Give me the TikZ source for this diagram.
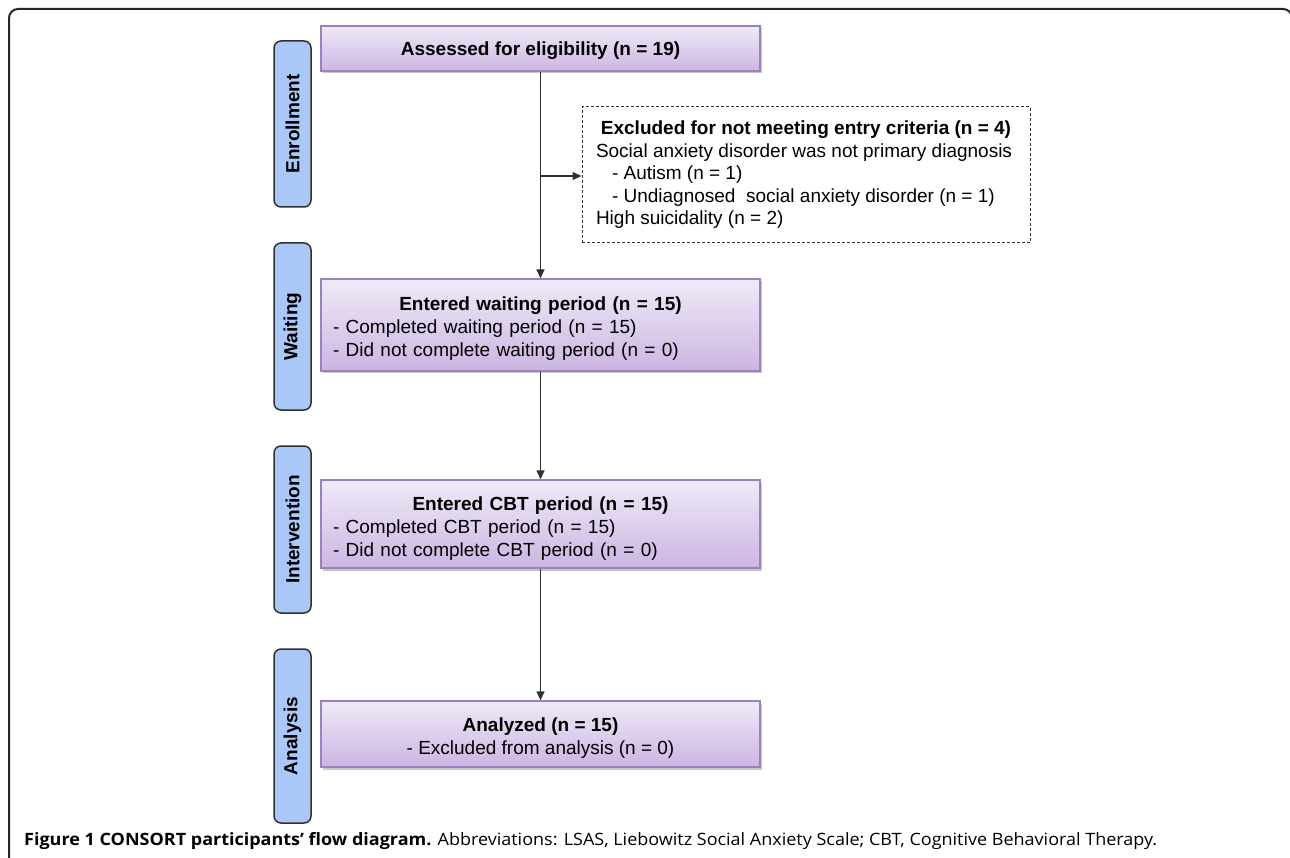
\documentclass[tikz,border=0pt]{standalone}
\usepackage{fontspec}
\usepackage{graphicx}
\setmainfont{Liberation Sans}
\newfontfamily\capfont{Open Sans}
\usetikzlibrary{arrows.meta,shadows}
\definecolor{sideblue}{HTML}{A9C8F8}
\definecolor{purptop}{HTML}{EFEAF7}
\definecolor{purpbot}{HTML}{CBB5E2}
\definecolor{purpline}{HTML}{9B82BE}
\definecolor{lineg}{HTML}{303030}
\newcommand{\dropstrut}[1]{\rule{0pt}{#1}}
\begin{document}
\begin{tikzpicture}[x=1pt,y=-1pt,
  mainbox/.style={draw=purpline, line width=1.3pt, top color=purptop, bottom color=purpbot,
    minimum width=439pt, inner xsep=12pt, inner ysep=0pt,
    font=\fontsize{19}{23}\selectfont,
    drop shadow={shadow xshift=2pt, shadow yshift=-2.5pt, fill=black, opacity=0.22}},
  sidebox/.style={draw=lineg, line width=1.5pt, fill=sideblue, rounded corners=7pt,
    minimum height=37pt, inner sep=0pt, rotate=90,
    font=\bfseries\fontsize{19}{23}\selectfont},
  exclbox/.style={draw=lineg, line width=1pt, dash pattern=on 3pt off 2pt,
    minimum width=448pt, minimum height=136pt, inner xsep=14pt,
    inner ysep=0pt, align=left, font=\fontsize{19}{22.5}\selectfont},
  arr/.style={draw=lineg, line width=1.3pt, -{Triangle[length=9pt,width=8pt]}},
  frame/.style={draw=black!85, line width=2pt, rounded corners=9pt}
]
\useasboundingbox (0,0) rectangle (1290,858);
\clip (0,0) rectangle (1290,858);
\fill[white] (0,0) rectangle (1290,858);
\draw[frame] (9,9) rectangle (1292,880);

% side boxes
\node[sidebox, minimum width=166pt] (s1) at (292.5,124) {Enrollment};
\node[sidebox, minimum width=167pt] (s2) at (292.5,326.5) {Waiting};
\node[sidebox, minimum width=167pt] (s3) at (292.5,529.5) {Intervention};
\node[sidebox, minimum width=174pt] (s4) at (292.5,736) {Analysis};

% main boxes
\node[mainbox, minimum height=45pt] (b1) at (540.5,48.5) {\dropstrut{18pt}\bfseries Assessed for eligibility (n = 19)};
\node[mainbox, minimum height=92pt, text width=415pt, align=left] (b2) at (540.5,325)
  {\dropstrut{21pt}\makebox[\linewidth][c]{\bfseries Entered waiting period (n = 15)}\\- Completed waiting period (n = 15)\\- Did not complete waiting period (n = 0)};
\node[mainbox, minimum height=88pt, text width=415pt, align=left] (b3) at (540.5,524)
  {\dropstrut{23.5pt}\makebox[\linewidth][c]{\bfseries Entered CBT period (n = 15)}\\- Completed CBT period (n = 15)\\- Did not complete CBT period (n = 0)};
\node[mainbox, minimum height=66pt, align=center] (b4) at (540.5,734)
  {\dropstrut{22pt}\bfseries Analyzed (n = 15)\\- Excluded from analysis (n = 0)};

% excluded box
\node[exclbox] (excl) at (806,175)
  {\makebox[420pt][c]{\bfseries Excluded for not meeting entry criteria (n = 4)}\\
   Social anxiety disorder was not primary diagnosis\\
   \hspace*{16pt}- Autism (n = 1)\\
   \hspace*{16pt}- Undiagnosed\ \ social anxiety disorder (n = 1)\\
   High suicidality (n = 2)};

% connectors
\draw[arr] (b1.south) -- (b2.north);
\coordinate (br) at (540.5,176);
\draw[arr] (br) -- (br -| excl.west);
\draw[arr] (b2.south) -- (b3.north);
\draw[arr] (b3.south) -- (b4.north);

% caption
\node[anchor=base west, inner sep=0pt] (cap) at (24,845)
  {\resizebox{1133pt}{\height}{\capfont\fontsize{17}{20}\selectfont\textbf{Figure 1 CONSORT participants’ flow diagram.} Abbreviations: LSAS, Liebowitz Social Anxiety Scale; CBT, Cognitive Behavioral Therapy.}};
\end{tikzpicture}
\end{document}
